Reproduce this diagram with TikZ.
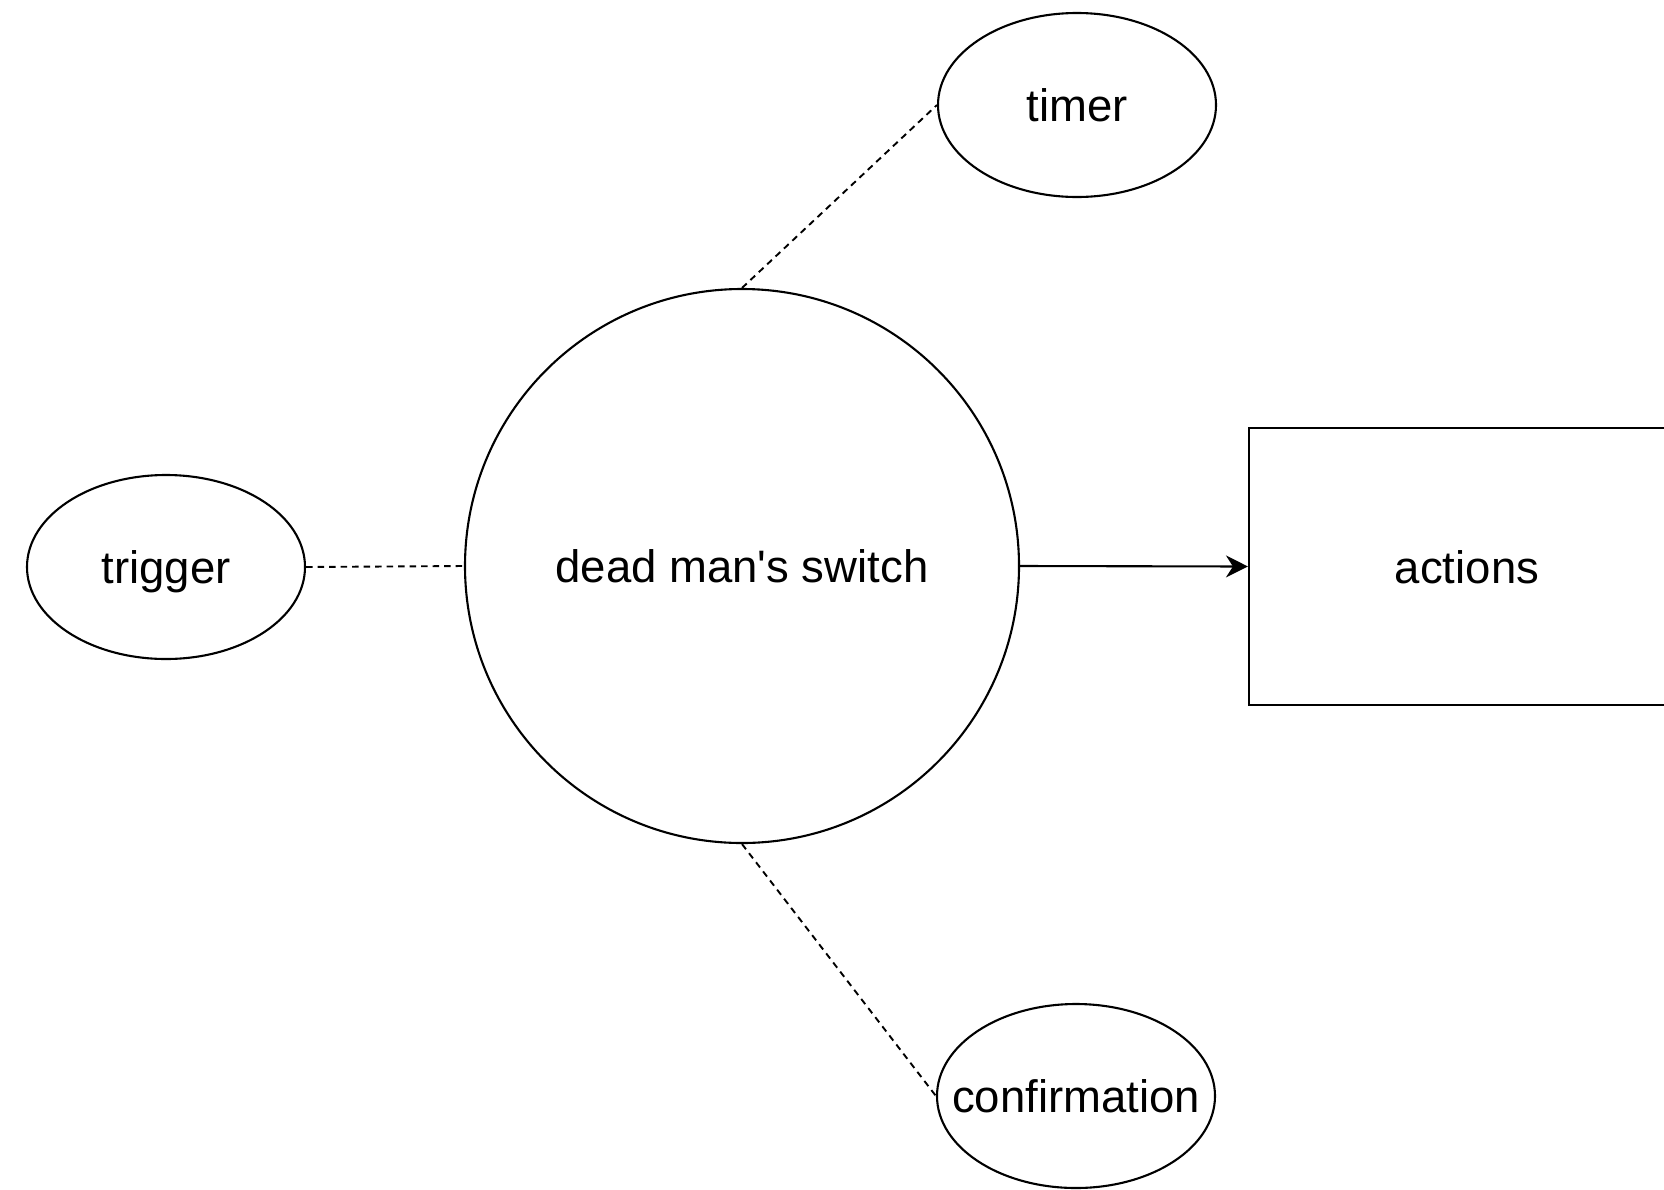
\documentclass[tikz,border=0pt]{standalone}
\usepackage{fontspec}
\setmainfont{Liberation Sans}
\usetikzlibrary{shapes.geometric,arrows.meta}

\tikzset{
  shape line/.style={draw=black, line width=2.1pt},
  caption/.style={font=\fontsize{45.5}{54}\selectfont, text height=33pt, text depth=0pt, inner sep=0pt},
  oval/.style={shape line, ellipse, minimum width=278pt, minimum height=184pt, inner sep=0pt},
  hub/.style={shape line, circle, minimum size=554pt, inner sep=0pt, caption},
  actionbox/.style={shape line, rectangle, minimum width=436pt, minimum height=277pt, inner sep=0pt, caption},
  link/.style={line width=1.9pt, dash pattern=on 6.5pt off 5pt},
  flow/.style={line width=2.1pt, -{Stealth[length=22pt, width=22pt, inset=7pt]}}
}

\begin{document}
\begin{tikzpicture}[x=1pt, y=-1pt]
  % page frame: 1664 x 1189 units, y grows downward
  \useasboundingbox (0,0) rectangle (1664,1189);
  \clip (0,0) rectangle (1664,1189);
  \fill[white] (0,0) rectangle (1664,1189);

  \node[hub] (switch) at (742,566) {dead man\textquotesingle s switch};
  \node[oval] (trigger) at (166,567) {};
  \node[caption] (triggertext) at (trigger.center) {trigger};
  \node[oval] (timer) at (1077,105) {};
  \node[caption] (timertext) at (timer.center) {timer};
  \node[oval] (confirm) at (1076,1096) {};
  \node[caption] (confirmtext) at (confirm.center) {confirmation};
  \node[actionbox] (actions) at (1467,566.5) {actions};

  \draw[link] (trigger.east) -- (switch.west);
  \draw[link] (switch.north) -- (timer.west);
  \draw[link] (switch.south) -- (confirm.west);
  \draw[flow] (switch.east) -- (actions.west);
\end{tikzpicture}
\end{document}
